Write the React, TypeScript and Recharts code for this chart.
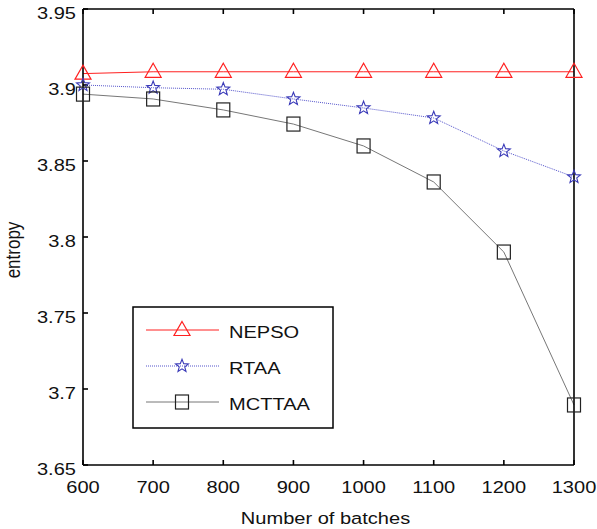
import React from 'react';
import { LineChart, Line, XAxis, YAxis, Legend } from 'recharts';

const batches = [600, 700, 800, 900, 1000, 1100, 1200, 1300];
const nepso = [3.9075, 3.9087, 3.9087, 3.9087, 3.9087, 3.9087, 3.9087, 3.9087];
const rtaa = [3.9, 3.8982, 3.8972, 3.8908, 3.8849, 3.8783, 3.8566, 3.8395];
const mcttaa = [3.894, 3.8908, 3.8836, 3.8743, 3.8599, 3.8362, 3.7901, 3.6895];
const xTicks = [600, 700, 800, 900, 1000, 1100, 1200, 1300];
const yTicks = [3.65, 3.7, 3.75, 3.8, 3.85, 3.9, 3.95];
const seriesNames = ['NEPSO', 'RTAA', 'MCTTAA'];
const xLabel = 'Number of batches';
const yLabel = 'entropy';

const data = batches.map((b, i) => ({ x: b, nepso: nepso[i], rtaa: rtaa[i], mcttaa: mcttaa[i] }));

const FONT = '"Liberation Sans", Arial, sans-serif';
const FS = 17;
const SX = 1.18;

const triPath = (cx: number, cy: number) =>
  `M${cx},${cy - 8.5} L${cx + 8},${cy + 5.5} L${cx - 8},${cy + 5.5} Z`;

const starPath = (cx: number, cy: number) => {
  const pts: string[] = [];
  const R = 6.8;
  const r = 2.9;
  for (let k = 0; k < 10; k++) {
    const ang = -Math.PI / 2 + (k * Math.PI) / 5;
    const rad = k % 2 === 0 ? R : r;
    pts.push(`${(cx + rad * Math.cos(ang)).toFixed(2)},${(cy + rad * Math.sin(ang)).toFixed(2)}`);
  }
  return 'M' + pts.join(' L') + ' Z';
};

const TriDot = (p: any) => (
  <path key={`t${p.index}`} d={triPath(p.cx, p.cy)} fill="none" stroke="#ff2020" strokeWidth={1.2} />
);
const StarDot = (p: any) => (
  <path key={`s${p.index}`} d={starPath(p.cx, p.cy)} fill="none" stroke="#3a3ab8" strokeWidth={1.1} />
);
const SqDot = (p: any) => (
  <rect key={`q${p.index}`} x={p.cx - 6.5} y={p.cy - 7} width={13} height={14} fill="none" stroke="#222" strokeWidth={1.2} />
);

const XTick = (p: any) => (
  <text transform={`translate(${p.x},${p.y}) scale(${SX},1)`} dy="0.72em" textAnchor="middle" fontFamily={FONT} fontSize={FS} fill="#111">
    {p.payload.value}
  </text>
);
const YTick = (p: any) => (
  <text transform={`translate(${p.x},${p.y + 4}) scale(${SX},1)`} dy="0.36em" textAnchor="end" fontFamily={FONT} fontSize={FS} fill="#111">
    {p.payload.value}
  </text>
);

const XLabel = (p: any) => {
  const vb = p.viewBox;
  return (
    <text transform={`translate(${vb.x + vb.width / 2 - 3},${vb.y + vb.height - 5}) scale(${SX},1)`} textAnchor="middle" fontFamily={FONT} fontSize={FS} fill="#111">
      {xLabel}
    </text>
  );
};
const YLabel = (p: any) => {
  const vb = p.viewBox;
  return (
    <text transform={`translate(20,${vb.y + vb.height / 2 + 13}) rotate(-90) scale(1,${SX})`} textAnchor="middle" fontFamily={FONT} fontSize={FS} fill="#111">
      {yLabel}
    </text>
  );
};

const LegendBox = () => {
  const rows = [
    { name: seriesNames[0], y: 24, stroke: '#ff2020', dash: undefined, marker: (cx: number, cy: number) => <path d={triPath(cx, cy)} fill="none" stroke="#ff2020" strokeWidth={1.2} /> },
    { name: seriesNames[1], y: 60, stroke: '#5555cc', dash: '1 1', marker: (cx: number, cy: number) => <path d={starPath(cx, cy)} fill="none" stroke="#3a3ab8" strokeWidth={1.1} /> },
    { name: seriesNames[2], y: 96, stroke: '#777', dash: undefined, marker: (cx: number, cy: number) => <rect x={cx - 6.5} y={cy - 7} width={13} height={14} fill="none" stroke="#222" strokeWidth={1.2} /> },
  ];
  return (
    <svg width={202} height={123} style={{ display: 'block' }}>
      <rect x={1} y={1} width={200} height={121} fill="#fff" stroke="#000" strokeWidth={1.5} />
      {rows.map((r) => (
        <g key={r.name}>
          <line x1={14} x2={87} y1={r.y} y2={r.y} stroke={r.stroke} strokeWidth={1} strokeDasharray={r.dash} />
          {r.marker(50, r.y)}
          <text transform={`translate(97,${r.y + 2}) scale(${SX},1)`} dy="0.36em" fontFamily={FONT} fontSize={FS} fill="#111">{r.name}</text>
        </g>
      ))}
    </svg>
  );
};

export default function App() {
  return (
    <div style={{ position: 'absolute', left: 0, top: 0, background: '#fff' }}>
      <LineChart width={597} height={529} data={data} margin={{ top: 8, right: 22, left: 0, bottom: 0 }}>
        <XAxis
          dataKey="x"
          type="number"
          domain={[600, 1300]}
          ticks={xTicks}
          height={64}
          tickSize={-5}
          tickMargin={21}
          stroke="#000"
          strokeWidth={1.6}
          tick={XTick}
          label={{ content: XLabel }}
        />
        <XAxis
          xAxisId="top"
          orientation="top"
          dataKey="x"
          type="number"
          domain={[600, 1300]}
          ticks={xTicks}
          height={1}
          tickSize={-5}
          stroke="#000"
          strokeWidth={1.6}
          tickFormatter={() => ''}
        />
        <YAxis
          type="number"
          domain={[3.65, 3.95]}
          ticks={yTicks}
          width={83}
          tickSize={-5}
          tickMargin={12}
          stroke="#000"
          strokeWidth={1.6}
          tick={YTick}
          label={{ content: YLabel }}
        />
        <YAxis
          yAxisId="right"
          orientation="right"
          type="number"
          domain={[3.65, 3.95]}
          ticks={yTicks}
          width={1}
          tickSize={-5}
          stroke="#000"
          strokeWidth={1.6}
          tickFormatter={() => ''}
        />
        <Legend
          layout="horizontal"
          verticalAlign="middle"
          align="center"
          content={() => <LegendBox />}
          wrapperStyle={{ position: 'absolute', left: 132, top: 306, width: 202, height: 123 }}
        />
        <Line dataKey="nepso" name={seriesNames[0]} stroke="#ff2020" strokeWidth={1} dot={TriDot} activeDot={false} isAnimationActive={false} />
        <Line dataKey="rtaa" name={seriesNames[1]} stroke="#5555cc" strokeWidth={1} strokeDasharray="1 1" dot={StarDot} activeDot={false} isAnimationActive={false} />
        <Line dataKey="mcttaa" name={seriesNames[2]} stroke="#777" strokeWidth={1} dot={SqDot} activeDot={false} isAnimationActive={false} />
      </LineChart>
    </div>
  );
}
